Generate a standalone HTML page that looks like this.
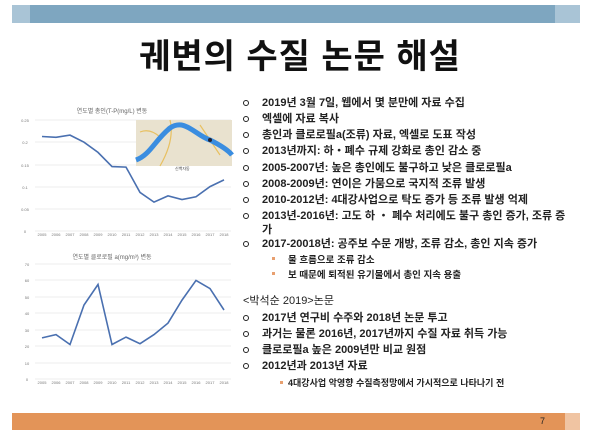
<!DOCTYPE html>
<html><head><meta charset="utf-8"><style>
html,body{margin:0;padding:0;background:#fff;}
body{width:600px;height:438px;position:relative;overflow:hidden;font-family:"Liberation Sans","Noto Sans CJK KR",sans-serif;}
.t{position:absolute;font-size:11px;font-weight:bold;color:#222;white-space:nowrap;line-height:12px;}
.b{position:absolute;left:243px;width:4px;height:4px;border:1.5px solid #222;border-radius:50%;}
.s{position:absolute;font-size:9.5px;color:#222;white-space:nowrap;font-weight:bold;}
.sd{position:absolute;width:3px;height:3px;background:#e8a070;}
</style></head><body>
<div style="position:absolute;left:12px;top:5px;width:568px;height:18px;background:#7ea6c0"></div>
<div style="position:absolute;left:12px;top:5px;width:18px;height:18px;background:#a9c4d6"></div>
<div style="position:absolute;left:555px;top:5px;width:25px;height:18px;background:#a9c4d6"></div>
<div style="position:absolute;left:0;top:29px;width:600px;text-align:center;font-size:34px;letter-spacing:1px;font-weight:bold;color:#111;">궤변의 수질 논문 해설</div>

<svg style="position:absolute;left:0;top:0" width="600" height="438" font-family="Liberation Sans, Noto Sans CJK KR, sans-serif">
<text x="112" y="113" font-size="6" fill="#666" text-anchor="middle">연도별 총인(T-P(mg/L) 변동</text>
<g stroke="#ddd" stroke-width="0.6">
<line x1="35" y1="120" x2="231" y2="120"/><line x1="35" y1="142" x2="231" y2="142"/><line x1="35" y1="165" x2="231" y2="165"/><line x1="35" y1="187" x2="231" y2="187"/><line x1="35" y1="209" x2="231" y2="209"/><line x1="35" y1="231" x2="231" y2="231"/>
</g>
<g font-size="4" fill="#777" text-anchor="middle">
<text x="25" y="122">0.25</text><text x="25" y="144">0.2</text><text x="25" y="167">0.15</text><text x="25" y="189">0.1</text><text x="25" y="211">0.05</text><text x="25" y="233">0</text>
<text x="42" y="236">2005</text><text x="56" y="236">2006</text><text x="70" y="236">2007</text><text x="84" y="236">2008</text><text x="98" y="236">2009</text><text x="112" y="236">2010</text><text x="126" y="236">2011</text><text x="140" y="236">2012</text><text x="154" y="236">2013</text><text x="168" y="236">2014</text><text x="182" y="236">2015</text><text x="196" y="236">2016</text><text x="210" y="236">2017</text><text x="224" y="236">2018</text>
</g>
<polyline fill="none" stroke="#4a70b0" stroke-width="1.6" points="42,136.5 56,137.3 70,135.1 84,142.2 98,152.4 112,166.6 126,167.1 140,192.4 154,202.1 168,195.9 182,199.5 196,196.8 210,186.6 224,179.9"/>
<rect x="136" y="120" width="96" height="46" fill="#e9e2cf"/>
<path d="M140,132 q10,-4 20,5 M170,120 q5,20 -10,46 M200,125 l20,30" stroke="#e8c060" stroke-width="1.2" fill="none"/>
<path d="M136,160 C150,155 155,140 170,128 C185,118 195,135 210,140 C220,145 228,150 232,155" stroke="#3a8de0" stroke-width="5" fill="none"/>
<circle cx="210" cy="140" r="2" fill="#223"/>
<text x="175" y="170" font-size="4" fill="#444">신백자동</text>

<text x="112" y="259" font-size="6" fill="#666" text-anchor="middle">연도별 클로로필 a(mg/m³) 변동</text>
<g stroke="#ddd" stroke-width="0.6">
<line x1="35" y1="264" x2="231" y2="264"/><line x1="35" y1="280" x2="231" y2="280"/><line x1="35" y1="297" x2="231" y2="297"/><line x1="35" y1="313" x2="231" y2="313"/><line x1="35" y1="330" x2="231" y2="330"/><line x1="35" y1="346" x2="231" y2="346"/><line x1="35" y1="363" x2="231" y2="363"/><line x1="35" y1="379" x2="231" y2="379"/>
</g>
<g font-size="4" fill="#777" text-anchor="middle">
<text x="27" y="266">70</text><text x="27" y="282">60</text><text x="27" y="299">50</text><text x="27" y="315">40</text><text x="27" y="332">30</text><text x="27" y="348">20</text><text x="27" y="365">10</text><text x="27" y="381">0</text>
<text x="42" y="384">2005</text><text x="56" y="384">2006</text><text x="70" y="384">2007</text><text x="84" y="384">2008</text><text x="98" y="384">2009</text><text x="112" y="384">2010</text><text x="126" y="384">2011</text><text x="140" y="384">2012</text><text x="154" y="384">2013</text><text x="168" y="384">2014</text><text x="182" y="384">2015</text><text x="196" y="384">2016</text><text x="210" y="384">2017</text><text x="224" y="384">2018</text>
</g>
<polyline fill="none" stroke="#4a70b0" stroke-width="1.6" points="42,337.9 56,334.6 70,344.5 84,305 98,284.5 112,344.5 126,337.1 140,343.7 154,334.6 168,323.1 182,300.1 196,280.4 210,288.6 224,310"/>
</svg>

<div class="b" style="top:100px"></div><div class="t" style="left:262px;top:97px">2019년 3월 7일, 웹에서 몇 분만에 자료 수집</div>
<div class="b" style="top:116px"></div><div class="t" style="left:262px;top:113px">엑셀에 자료 복사</div>
<div class="b" style="top:132px"></div><div class="t" style="left:262px;top:129px">총인과 클로로필a(조류) 자료, 엑셀로 도표 작성</div>
<div class="b" style="top:148px"></div><div class="t" style="left:262px;top:145px">2013년까지: 하・폐수 규제 강화로 총인 감소 중</div>
<div class="b" style="top:165px"></div><div class="t" style="left:262px;top:162px">2005-2007년: 높은 총인에도 불구하고 낮은 클로로필a</div>
<div class="b" style="top:181px"></div><div class="t" style="left:262px;top:178px">2008-2009년: 연이은 가뭄으로 국지적 조류 발생</div>
<div class="b" style="top:197px"></div><div class="t" style="left:262px;top:194px">2010-2012년: 4대강사업으로 탁도 증가 등 조류 발생 억제</div>
<div class="b" style="top:213px"></div><div class="t" style="left:262px;top:210px">2013년-2016년: 고도 하 ・ 폐수 처리에도 불구 총인 증가, 조류 증</div>
<div class="t" style="left:262px;top:224px">가</div>
<div class="b" style="top:241px"></div><div class="t" style="left:262px;top:238px">2017-20018년: 공주보 수문 개방, 조류 감소, 총인 지속 증가</div>
<div class="sd" style="left:272px;top:257px"></div><div class="s" style="left:288px;top:252px">물 흐름으로 조류 감소</div>
<div class="sd" style="left:272px;top:272px"></div><div class="s" style="left:288px;top:267px">보 때문에 퇴적된 유기물에서 총인 지속 용출</div>
<div class="t" style="left:243px;top:295px;font-weight:normal">&lt;박석순 2019&gt;논문</div>
<div class="b" style="top:315px"></div><div class="t" style="left:262px;top:312px">2017년 연구비 수주와 2018년 논문 투고</div>
<div class="b" style="top:331px"></div><div class="t" style="left:262px;top:328px">과거는 물론 2016년, 2017년까지 수질 자료 취득 가능</div>
<div class="b" style="top:347px"></div><div class="t" style="left:262px;top:344px">클로로필a 높은 2009년만 비교 원점</div>
<div class="b" style="top:363px"></div><div class="t" style="left:262px;top:360px">2012년과 2013년 자료</div>
<div class="sd" style="left:280px;top:381px"></div><div class="s" style="left:288px;top:376px;font-size:9px">4대강사업 악영향 수질측정망에서 가시적으로 나타나기 전</div>

<div style="position:absolute;left:12px;top:413px;width:568px;height:17px;background:#e39458"></div>
<div style="position:absolute;left:565px;top:413px;width:15px;height:17px;background:#f0c4a2"></div>
<div style="position:absolute;left:540px;top:416px;font-size:9px;color:#222">7</div>
</body></html>
